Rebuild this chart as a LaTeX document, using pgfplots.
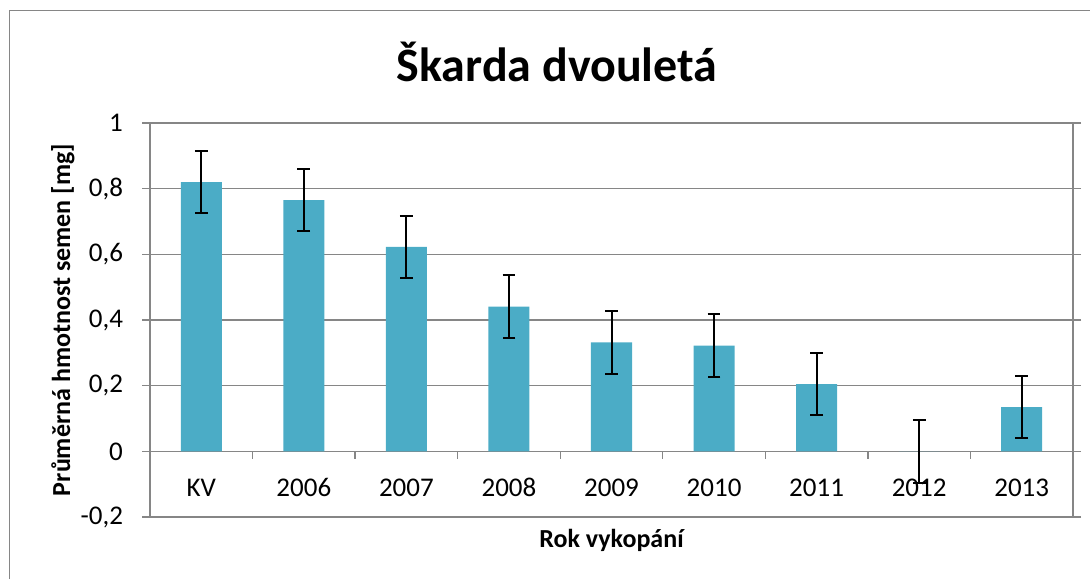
\documentclass[border=0pt]{standalone}
\usepackage{fontspec}
\setmainfont{Carlito}
\usepackage{pgfplots}
\pgfplotsset{compat=1.18}
\definecolor{barc}{RGB}{75,172,198}
\definecolor{gridgray}{RGB}{134,134,134}

\pgfplotstableread{
x  y     e
0  0.820 0.095
1  0.765 0.095
2  0.623 0.095
3  0.441 0.095
4  0.332 0.095
5  0.322 0.095
6  0.205 0.095
7  0.000 0.095
8  0.135 0.095
}\seeddata

\begin{document}
\begin{tikzpicture}
\path[use as bounding box] (0,0) rectangle (545pt,289.5pt);
\draw[gridgray, line width=0.7pt] (4.75pt,0) -- (4.75pt,284.25pt) -- (545pt,284.25pt);
\node[font=\fontsize{24}{28}\selectfont\bfseries, anchor=center] at (278.5pt,258.5pt) {Škarda dvouletá};
\begin{axis}[
  at={(75pt,31pt)}, anchor=south west,
  scale only axis, width=461.5pt, height=197pt,
  ybar, bar width=0.4,
  xmin=-0.5, xmax=8.5, ymin=-0.2, ymax=1,
  xtick={0,...,8},
  xticklabels={KV,2006,2007,2008,2009,2010,2011,2012,2013},
  ytick={-0.2,0,0.2,0.4,0.6,0.8,1},
  x tick style={draw=none},
  tick align=outside, major tick length=4pt,
  y tick style={gridgray, line width=0.7pt},
  axis line style={gridgray, line width=0.7pt},
  ymajorgrids, grid style={gridgray, line width=0.7pt},
  tick label style={font=\fontsize{13.5}{16}\selectfont},
  /pgf/number format/assume math mode=true,
  /pgf/number format/use comma,
  yticklabel style={xshift=-6pt},
  xticklabel style={anchor=base, yshift=14.5pt},
  label style={font=\fontsize{13}{15}\selectfont\bfseries},
  xlabel={Rok vykopání},
  ylabel={Průměrná hmotnost semen [mg]},
  xlabel style={at={(axis description cs:0.5,-0.0584)}, anchor=center},
  ylabel style={at={(axis description cs:-0.0943,0.5)}, anchor=center},
  clip=false,
]
\addplot[fill=barc, draw=none,
  error bars/.cd, y dir=both, y explicit,
  error bar style={black, line width=1pt},
  error mark options={black, rotate=90, mark size=3.2pt, line width=1pt}]
  table[x=x, y=y, y error=e] {\seeddata};
\pgfplotsinvokeforeach{0.5,1.5,2.5,3.5,4.5,5.5,6.5,7.5}{
  \draw[gridgray, line width=0.7pt] (axis cs:#1,0) -- ++(0pt,-4pt);
}
\end{axis}
\end{tikzpicture}
\end{document}
